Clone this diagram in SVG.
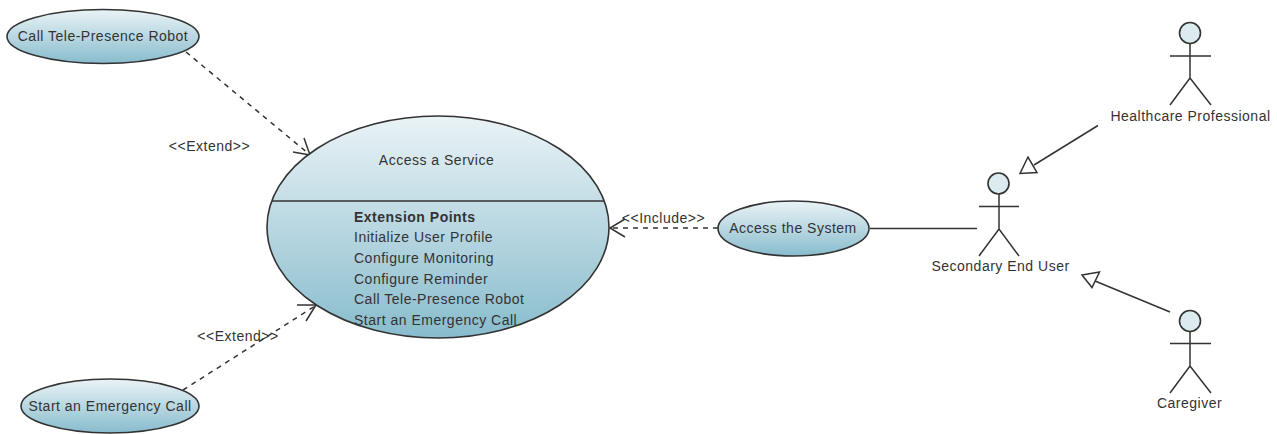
<svg xmlns="http://www.w3.org/2000/svg" width="1277" height="434" viewBox="0 0 1277 434">
<style>
text{font-family:"Liberation Sans",Arial,sans-serif;font-size:14px;letter-spacing:.5px;fill:#333}
.m{text-anchor:middle}
.uc{stroke:#333;stroke-width:1.6;fill:url(#g)}
.ln{stroke:#333;stroke-width:1.5;fill:none}
.d{stroke-dasharray:5 5}
.hd{stroke:#333;stroke-width:1.5;fill:#fff}
.head{stroke:#333;stroke-width:1.6;fill:#dcebf0}
</style>
<defs>
<linearGradient id="g" x1="0" y1="0" x2="0" y2="1"><stop offset="0" stop-color="#eaf3f6"/><stop offset="1" stop-color="#88bccd"/></linearGradient>
</defs>
<rect width="1277" height="434" fill="#fff"/>
<g id="connectors">
<path class="ln d" d="M186 52L309 154"/><path class="ln" d="M304 138L310 155L293 152"/>
<path class="ln d" d="M183 390L315 306"/><path class="ln" d="M297 305H316L306 321"/>
<path class="ln d" d="M718 228H611"/><path class="ln" d="M625 219L610 228L625 237"/>
<path class="ln" d="M870 228.500H977"/>
<path class="ln" d="M1098 125.500L1034 165"/><path class="hd" d="M1028 157L1020 173.500L1037 172.500Z"/>
<path class="ln" d="M1170 312L1095 281"/><path class="hd" d="M1082 275L1099.500 272L1092 287.500Z"/>
<text x="209.500" y="151" class="m">&lt;&lt;Extend&gt;&gt;</text>
<text x="238" y="341" class="m">&lt;&lt;Extend&gt;&gt;</text>
<text x="663.500" y="223" class="m">&lt;&lt;Include&gt;&gt;</text>
</g>
<g id="call-robot"><ellipse class="uc" cx="103" cy="36.500" rx="96" ry="27"/><text x="103" y="41" class="m">Call Tele-Presence Robot</text></g>
<g id="start-call"><ellipse class="uc" cx="110" cy="406" rx="89" ry="27"/><text x="110" y="411" class="m">Start an Emergency Call</text></g>
<g id="access-service">
<ellipse class="uc" cx="438" cy="227" rx="171" ry="111"/>
<path class="ln" d="M272 201H604"/>
<text x="436.500" y="165" class="m">Access a Service</text>
<text x="354" y="222" style="font-weight:bold">Extension Points</text>
<text x="354" y="242">Initialize User Profile</text>
<text x="354" y="263">Configure Monitoring</text>
<text x="354" y="284">Configure Reminder</text>
<text x="354" y="304">Call Tele-Presence Robot</text>
<text x="354" y="325">Start an Emergency Call</text>
</g>
<g id="access-system"><ellipse class="uc" cx="793.500" cy="228.500" rx="75.500" ry="27.500"/><text x="793" y="233" class="m">Access the System</text></g>
<g id="healthcare"><circle class="head" cx="1190" cy="33" r="10.500"/><path class="ln" d="M1190 43.500V78M1170 56H1211M1170 105L1190 78L1211 105"/><text x="1190.500" y="121" class="m">Healthcare Professional</text></g>
<g id="secondary"><circle class="head" cx="998.500" cy="183.500" r="10.500"/><path class="ln" d="M999 194V229M979 206.500H1019M979 256L999 229L1019 256"/><text x="1000.500" y="271" class="m">Secondary End User</text></g>
<g id="caregiver"><circle class="head" cx="1190" cy="321" r="10.500"/><path class="ln" d="M1190 331.500V366M1170 343.500H1211M1170 393L1190 366L1211 393"/><text x="1189.500" y="408" class="m">Caregiver</text></g>
</svg>
